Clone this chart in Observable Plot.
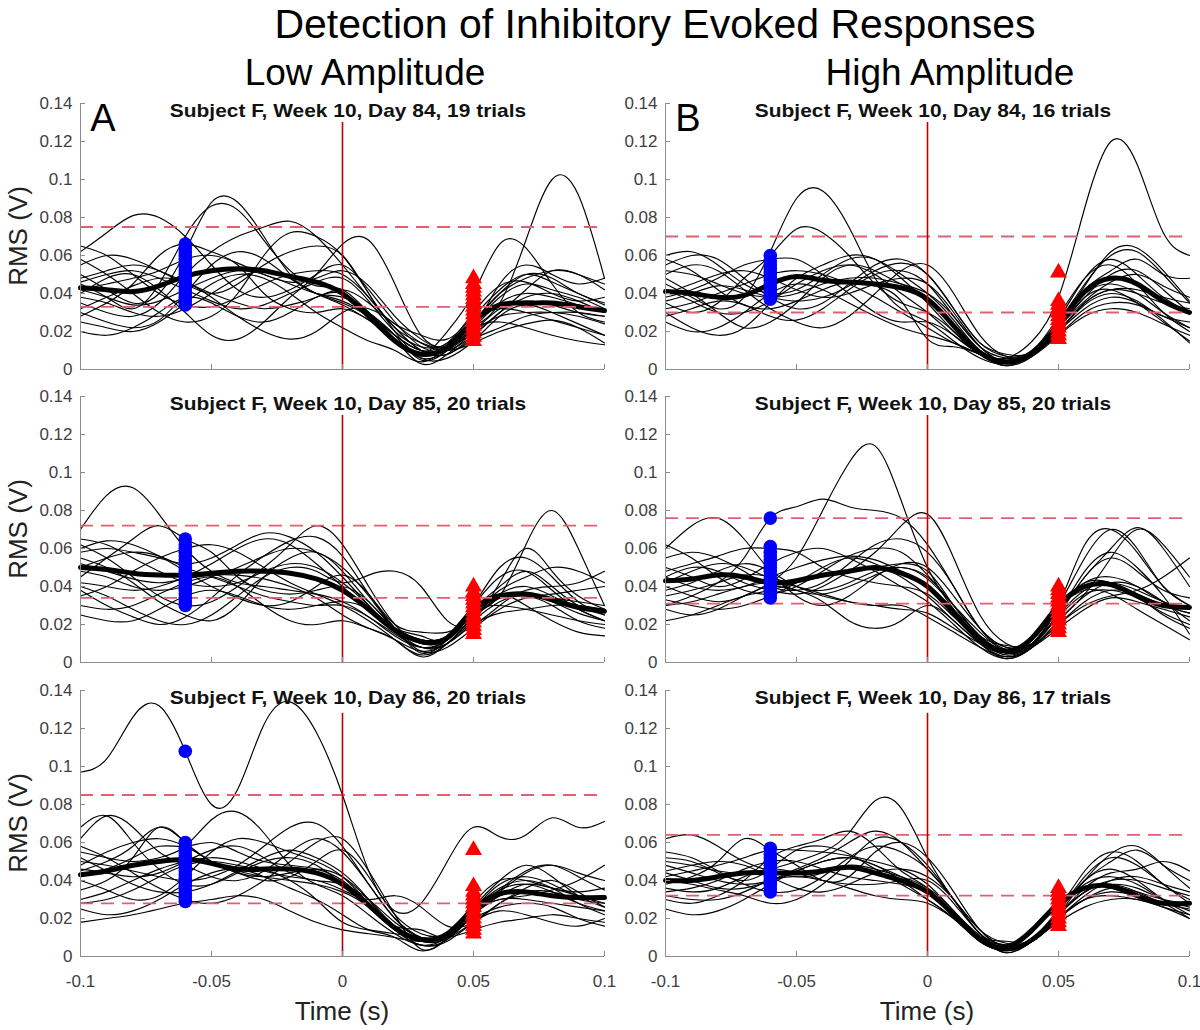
<!DOCTYPE html>
<html><head><meta charset="utf-8">
<script src="https://cdn.jsdelivr.net/npm/d3@7"></script>
<script src="https://cdn.jsdelivr.net/npm/@observablehq/plot@0.6"></script>
<style>
body{margin:0;background:#fff;font-family:"Liberation Sans",Arial,sans-serif;}
#fig{position:relative;width:1200px;height:1030px;overflow:hidden;background:#fff}
.abs{position:absolute;white-space:nowrap;line-height:1;color:#000}
svg{position:absolute}
</style></head><body><div id="fig"></div>
<script>
// ---------------- DATA ----------------
const times = [-0.1,-0.09,-0.08,-0.07,-0.06,-0.05,-0.04,-0.03,-0.02,-0.01,0,0.01,0.02,0.03,0.04,0.05,0.06,0.07,0.08,0.09,0.1];
const xDomain = [-0.1, 0.1];
const yDomain = [0, 0.14];
const yTickValues = [0,0.02,0.04,0.06,0.08,0.1,0.12,0.14];
const yTickLabels = ["0","0.02","0.04","0.06","0.08","0.1","0.12","0.14"];
const xTickValues = [-0.1,-0.05,0,0.05,0.1];
const xTickLabels = ["-0.1","-0.05","0","0.05","0.1"];
const stimulusTime = 0;
const baselineMarkerTime = -0.06;
const responseMarkerTime = 0.05;
const mainTitle = "Detection of Inhibitory Evoked Responses";
const columnTitles = ["Low Amplitude","High Amplitude"];
const panelLetters = ["A","B"];
const panelTitles = [
  "Subject F, Week 10, Day 84, 19 trials","Subject F, Week 10, Day 84, 16 trials",
  "Subject F, Week 10, Day 85, 20 trials","Subject F, Week 10, Day 85, 20 trials",
  "Subject F, Week 10, Day 86, 20 trials","Subject F, Week 10, Day 86, 17 trials"];
const yLabel = "RMS (V)";
const xLabel = "Time (s)";

// all RMS values below in millivolts
const trialsA1 = [
[62,72,81,80,70,55,42,38,42,50,55,42,25,12,10,18,30,42,52,50,45],
[50,42,35,40,62,88,88,70,50,40,38,30,18,5,10,22,35,40,38,34,30],
[45,38,32,45,70,86,84,68,52,44,42,30,16,3,8,20,32,36,34,30,28],
[35,30,28,35,50,62,70,75,78,70,55,38,22,10,8,18,30,38,40,36,30],
[55,60,58,52,45,40,45,55,62,65,60,40,22,14,12,24,38,45,42,38,32],
[30,25,22,26,40,55,62,58,48,40,35,28,18,10,12,25,40,50,48,40,35],
[40,48,50,42,30,18,16,25,38,50,66,68,45,18,12,22,45,55,50,45,48],
[20,18,22,30,38,35,28,25,30,38,40,30,18,10,14,26,32,30,26,22,18],
[48,52,55,52,46,40,35,32,34,38,42,35,24,18,16,28,42,50,46,40,34],
[38,35,30,28,32,40,48,52,48,40,34,26,16,6,10,22,35,68,100,92,48],
[42,38,34,36,42,48,52,50,45,40,36,28,16,8,20,40,66,64,45,30,25],
[25,22,20,25,35,45,50,48,40,30,22,15,10,4,12,22,25,22,18,15,13],
[65,60,50,40,34,33,38,45,50,52,50,38,22,10,8,16,22,28,30,30,28],
[42,45,48,52,58,60,56,50,46,48,52,44,28,16,12,25,40,48,52,50,42],
[32,38,44,48,46,38,28,20,16,20,30,32,24,14,10,14,20,24,26,22,14],
[58,50,40,30,25,28,40,60,72,70,60,40,20,6,6,15,28,34,30,24,18],
[28,35,45,60,66,62,55,40,32,30,32,26,16,8,10,20,28,30,30,28,24],
[46,50,52,48,42,36,32,34,40,46,48,36,20,12,14,30,44,46,40,36,38]];
const meanA1 = [43,42,41,44,49,52,53,52,49,46,40,28,15,8,12,25,34,35,35,33,31];
const dotsA1 = [34,36,38,40,42,44,46,48,50,52,54,56,58,60,62,64,66];
const trianglesA1 = [15,17,19,21,23,25,27,29,31,33,35,37,39,41,43,45,48];
const thresholdsA1 = [75,33];

const trialsB1 = [
[45,38,32,38,62,90,94,75,48,32,25,15,6,3,10,25,40,45,40,30,22],
[35,30,35,48,60,74,72,60,45,35,30,20,8,4,8,22,38,50,52,42,30],
[55,60,58,48,38,32,35,45,55,58,50,32,14,7,10,28,48,55,45,30,20],
[30,22,18,22,35,48,55,60,58,48,35,20,8,2,9,25,45,60,62,50,35],
[60,62,55,45,40,42,50,58,58,50,40,26,10,6,15,38,85,120,108,72,60],
[40,45,50,52,48,42,38,40,45,48,45,30,12,4,8,20,35,42,40,35,32],
[25,20,22,30,40,45,42,35,28,22,18,14,8,4,8,22,38,42,35,25,15],
[50,55,52,42,32,25,22,28,40,52,55,40,18,7,9,26,48,58,50,38,30],
[38,42,48,55,58,58,50,40,30,25,25,18,8,2,7,20,35,42,42,38,35],
[28,32,36,34,28,26,32,42,50,52,45,28,12,4,8,18,28,32,30,24,18],
[48,40,30,22,25,35,48,55,52,45,38,24,10,5,9,24,42,52,58,50,48],
[32,35,40,45,50,52,50,45,38,30,22,14,8,3,7,18,30,35,34,28,22],
[52,50,45,40,38,40,45,48,48,45,40,28,12,6,8,24,44,62,64,52,36],
[42,36,30,30,36,45,52,55,50,40,30,18,8,3,8,20,32,38,35,28,25],
[36,40,44,42,38,36,38,44,52,56,50,32,14,8,9,22,36,46,50,44,38],
[58,52,42,34,32,36,42,46,44,36,16,12,8,4,8,20,34,40,36,26,14]];
const meanB1 = [41,40,38,39,45,49,47,46,45,43,37,23,9,4,9,24,41,48,45,36,30];
const dotsB1 = [37,39,41,43,45,47,49,51,53,55,57,60];
const trianglesB1 = [16,18,20,22,24,26,28,30,32,34,36,51];
const thresholdsB1 = [70,30];

const trialsA2 = [
[70,88,92,78,60,48,42,40,38,36,32,24,14,8,12,26,34,36,34,30,28],
[45,55,65,72,65,58,45,38,36,38,40,32,18,12,14,28,40,48,40,30,25],
[62,55,45,35,30,32,40,50,62,72,62,40,20,10,14,30,45,48,38,28,22],
[55,50,42,32,25,22,30,45,55,58,48,32,18,5,12,25,35,62,80,60,30],
[40,35,28,22,20,25,35,45,50,48,42,46,48,40,22,20,30,38,40,42,48],
[50,55,58,56,50,45,40,35,32,30,30,24,15,8,10,22,42,60,48,35,28],
[35,40,48,55,60,62,58,50,42,36,30,22,12,4,10,24,36,40,35,28,22],
[58,60,58,55,52,55,62,68,66,58,45,30,16,8,12,28,36,30,22,16,14],
[30,28,30,36,42,45,40,30,22,20,22,18,12,3,10,22,32,35,30,22,18],
[48,45,40,38,40,45,50,56,60,58,50,35,18,8,10,25,38,45,50,48,42],
[65,62,55,48,42,40,42,48,52,50,42,30,18,14,12,26,30,28,25,22,20],
[42,40,38,40,45,52,60,65,62,52,40,28,18,12,14,30,50,55,45,32,25],
[25,22,22,28,35,38,35,30,28,30,32,28,18,10,12,24,34,36,34,32,30],
[52,48,44,42,44,46,46,44,40,34,25,18,12,6,10,20,26,28,30,30,28],
[38,30,24,20,24,34,46,56,64,66,56,36,18,6,8,18,28,34,36,38,40],
[60,64,62,56,48,40,34,30,32,40,46,36,20,16,16,24,34,36,32,26,22]];
const meanA2 = [50,49,47,46,46,47,48,48,47,44,38,28,17,11,13,28,35,36,33,29,27];
const dotsA2 = [30,32,34,36,38,40,42,44,46,48,50,52,54,56,58,60,62,65];
const trianglesA2 = [15,17,19,21,23,25,27,29,31,33,35,37,40];
const thresholdsA2 = [72,34];

const trialsB2 = [
[40,35,32,35,42,55,80,105,114,85,50,28,12,5,10,25,38,42,38,32,28],
[30,35,42,55,76,82,86,82,80,76,62,40,18,7,12,28,40,42,36,30,26],
[45,50,48,42,38,36,40,48,58,72,78,55,25,10,10,28,42,45,40,32,28],
[60,72,76,65,48,35,30,35,45,52,50,35,18,8,12,30,55,70,60,40,30],
[50,45,40,44,52,58,60,55,48,40,32,20,8,2,8,22,36,55,70,62,45],
[35,38,42,46,45,40,35,32,30,28,26,18,10,4,9,25,45,55,48,38,34],
[28,25,28,35,40,38,32,22,18,22,30,22,10,3,8,22,35,42,40,32,22],
[55,58,55,48,40,38,42,52,62,65,58,40,18,8,10,28,42,42,35,25,18],
[38,42,48,52,48,40,38,42,48,50,45,30,14,5,9,26,45,60,71,60,40],
[22,25,30,35,38,42,45,48,50,52,48,30,14,5,10,24,36,38,34,26,20],
[62,55,45,38,36,40,48,56,60,58,46,30,14,9,10,26,48,58,50,35,15],
[45,40,38,40,45,50,54,56,54,48,40,28,14,6,10,28,38,36,28,20,12],
[48,52,56,60,60,58,50,45,42,40,36,24,12,5,9,20,30,35,38,45,55],
[33,30,28,30,35,42,50,55,52,45,35,22,10,2,8,20,32,38,36,30,26],
[42,48,52,50,44,38,36,40,46,50,44,30,16,6,10,30,62,70,58,40,30],
[30,32,36,40,42,40,36,32,30,30,24,16,8,3,8,18,28,34,32,28,24]];
const meanB2 = [43,44,46,45,42,43,46,48,50,47,40,26,12,6,13,30,40,41,35,30,29];
const dotsB2 = [34,36,38,40,42,44,46,48,50,52,54,56,58,61,76];
const trianglesB2 = [16,18,20,22,24,26,28,30,32,34,36,38,40];
const thresholdsB2 = [76,31];

const trialsA3 = [
[97,104,126,132,108,80,88,122,134,118,85,45,24,28,50,68,63,64,73,68,71],
[55,52,50,52,58,72,76,65,48,38,32,22,12,6,10,22,32,38,36,32,28],
[62,74,68,55,48,42,40,45,55,62,55,38,20,10,12,25,38,42,38,32,30],
[45,50,58,68,60,50,44,40,42,50,56,42,22,12,12,24,30,32,35,40,48],
[35,40,52,68,60,50,45,42,40,38,34,26,14,8,12,25,36,40,36,28,22],
[50,48,45,42,40,42,48,58,68,70,58,38,20,10,10,22,35,45,48,42,35],
[18,20,22,25,28,30,32,30,24,18,14,12,10,8,12,20,26,28,26,20,16],
[58,52,44,36,30,28,32,40,50,60,62,45,22,4,10,26,40,48,42,32,26],
[40,35,30,32,42,55,62,60,55,50,42,28,14,6,9,22,32,34,32,30,32],
[28,30,35,42,48,50,48,45,42,40,35,30,32,26,16,18,28,36,40,34,26],
[48,55,60,62,58,50,44,42,44,46,42,30,16,8,10,24,35,38,34,28,24],
[52,45,38,34,34,38,45,52,56,52,44,30,16,14,10,22,30,30,28,26,24],
[25,22,24,30,38,44,46,42,36,30,22,14,10,3,9,18,28,34,34,30,28],
[42,46,52,58,58,60,55,50,48,46,40,28,16,8,10,22,34,44,48,44,40],
[68,74,60,46,38,38,44,50,52,48,38,26,14,6,8,18,24,22,18,16,20],
[30,34,40,46,50,52,50,46,40,30,18,14,12,10,10,14,18,20,22,20,18],
[46,44,42,44,50,56,58,52,44,40,38,30,18,10,12,28,40,40,36,34,36]];
const meanA3 = [43,45,48,50,51,49,46,46,46,44,38,27,15,9,12,25,33,34,32,31,31];
const dotsA3 = [29,31,33,35,37,39,41,43,45,47,49,51,53,55,57,60,108];
const trianglesA3 = [12,14,16,18,20,22,24,26,28,30,32,34,37,56];
const thresholdsA3 = [85,28];

const trialsB3 = [
[50,48,45,44,46,50,55,65,82,78,52,30,12,4,10,22,34,38,34,28,25],
[62,64,58,50,45,42,44,48,46,42,36,24,10,6,8,20,32,40,42,38,34],
[38,42,50,62,56,48,40,42,55,60,52,34,14,5,10,25,45,55,50,38,30],
[30,28,32,40,52,58,62,66,58,45,36,22,10,2,9,24,40,50,56,48,40],
[45,48,50,48,42,36,34,38,44,46,42,30,14,7,9,24,38,42,38,30,24],
[25,22,24,30,38,45,50,52,48,40,30,20,8,3,8,20,30,32,30,26,22],
[55,52,45,38,34,35,42,52,58,55,46,30,14,5,9,22,34,40,40,36,32],
[40,38,35,32,28,30,38,50,62,60,48,30,12,4,9,24,42,52,48,38,28],
[34,36,40,46,50,50,46,42,40,38,34,22,10,8,8,20,30,34,32,28,20],
[48,44,40,38,40,45,50,52,48,42,34,22,10,4,9,22,36,44,46,50,45],
[42,45,48,52,56,56,55,53,50,46,38,24,11,4,9,24,40,46,40,30,22],
[32,30,30,34,40,42,40,36,32,30,28,20,10,2,8,18,26,30,30,26,20],
[44,40,36,36,40,46,52,60,66,60,46,30,12,6,8,22,40,54,58,48,36],
[36,34,36,42,46,44,40,38,38,40,40,28,12,4,8,20,30,36,34,30,28],
[52,50,44,40,46,56,58,54,46,38,30,20,8,3,8,22,34,38,36,30,26]];
const meanB3 = [40,40,42,44,44,44,45,47,44,40,34,22,9,5,14,28,36,37,32,28,28];
const dotsB3 = [34,36,38,40,42,44,46,48,50,52,54,57];
const trianglesB3 = [16,18,20,22,24,26,28,30,32,34,36];
const thresholdsB3 = [64,32];

const stimulusMarkerTop = [130,130,130,130,128,128]; // mV, top of red stimulus line per panel

// ---------------- LAYOUT ----------------
const fig = document.getElementById("fig");
const FONT = "'Liberation Sans', Arial, Helvetica, sans-serif";
const frameW = 524, frameH = 266;
const colLeft = [80, 665];
const rowTop = [103, 396, 690];
const mL = 60, mR = 8, mT = 8;

function addText(txt, cx, cy, css, extra = "") {
  const d = document.createElement("div");
  d.className = "abs";
  d.textContent = txt;
  d.style.cssText += css + `;font-family:${FONT};left:${cx}px;top:${cy}px;transform:translate(-50%,-50%) ${extra}`;
  fig.appendChild(d);
  return d;
}

const panels = [
  {trials: trialsA1, mean: meanA1, dots: dotsA1, tris: trianglesA1, thr: thresholdsA1},
  {trials: trialsB1, mean: meanB1, dots: dotsB1, tris: trianglesB1, thr: thresholdsB1},
  {trials: trialsA2, mean: meanA2, dots: dotsA2, tris: trianglesA2, thr: thresholdsA2},
  {trials: trialsB2, mean: meanB2, dots: dotsB2, tris: trianglesB2, thr: thresholdsB2},
  {trials: trialsA3, mean: meanA3, dots: dotsA3, tris: trianglesA3, thr: thresholdsA3},
  {trials: trialsB3, mean: meanB3, dots: dotsB3, tris: trianglesB3, thr: thresholdsB3}
];

const mv = v => v / 1000;
const tickLenX = (xDomain[1] - xDomain[0]) * 5 / frameW;
const tickLenY = (yDomain[1] - yDomain[0]) * 5 / frameH;
const fmtY = d => yTickLabels[yTickValues.findIndex(v => Math.abs(v - d) < 1e-9)];
const fmtX = d => xTickLabels[xTickValues.findIndex(v => Math.abs(v - d) < 1e-9)];

panels.forEach((p, idx) => {
  const col = idx % 2, row = Math.floor(idx / 2);
  const bottomRow = row === 2;
  const mB = bottomRow ? 44 : 6;
  const rows = p.trials.flatMap((vals, k) => vals.map((v, i) => ({t: times[i], v: mv(v), trial: k})));
  const meanRows = p.mean.map((v, i) => ({t: times[i], v: mv(v)}));
  const dotRows = p.dots.map(v => ({t: baselineMarkerTime, v: mv(v)}));
  const triRows = p.tris.map(v => ({t: responseMarkerTime, v: mv(v)}));
  const marks = [
    Plot.line(rows, {x: "t", y: "v", z: "trial", stroke: "#000", strokeWidth: 1.15, curve: "natural"}),
    Plot.line(meanRows, {x: "t", y: "v", stroke: "#000", strokeWidth: 5, curve: "natural"}),
    Plot.ruleY(p.thr.map(mv), {stroke: "#e0606e", strokeWidth: 1.8, strokeDasharray: "13,8"}),
    Plot.ruleX([stimulusTime], {y1: 0, y2: mv(stimulusMarkerTop[idx]), stroke: "#b80000", strokeWidth: 1.6}),
    Plot.dot(dotRows, {x: "t", y: "v", r: 6.8, fill: "#0000ff", stroke: null}),
    Plot.dot(triRows, {x: "t", y: "v", r: 6.3, symbol: "triangle", fill: "#ff0000", stroke: null}),
    Plot.ruleY(yTickValues, {x1: xDomain[0], x2: xDomain[0] + tickLenX, stroke: "#8c8c8c"}),
    Plot.ruleX(xTickValues, {y1: yDomain[0], y2: yDomain[0] + tickLenY, stroke: "#8c8c8c"}),
    Plot.ruleX([xDomain[0]], {y1: yDomain[0], y2: yDomain[1], stroke: "#8c8c8c"}),
    Plot.ruleY([yDomain[0]], {stroke: "#8c8c8c"}),
    Plot.axisY({ticks: yTickValues, tickFormat: fmtY, tickSize: 0, tickPadding: 8, label: null})
  ];
  if (bottomRow) marks.push(Plot.axisX({ticks: xTickValues, tickFormat: fmtX, tickSize: 0, tickPadding: 18, label: null}));
  const svg = Plot.plot({
    width: mL + frameW + mR, height: mT + frameH + mB,
    marginLeft: mL, marginRight: mR, marginTop: mT, marginBottom: mB,
    style: {background: "transparent", color: "#404040", fontSize: "17px", fontFamily: FONT, overflow: "visible"},
    x: {domain: xDomain, axis: bottomRow ? undefined : null},
    y: {domain: yDomain},
    marks
  });
  svg.style.left = (colLeft[col] - mL) + "px";
  svg.style.top = (rowTop[row] - mT) + "px";
  fig.appendChild(svg);

  // panel title
  const cx = colLeft[col] + frameW / 2 + 6;
  addText(panelTitles[idx], cx, rowTop[row] + 7, "font-size:19px;font-weight:bold;color:#111", "scaleX(1.1)");
  if (row === 0) addText(panelLetters[col], colLeft[col] + 23, rowTop[row] + 15, "font-size:38px");
  if (col === 0) addText(yLabel, 18, rowTop[row] + frameH / 2, "font-size:26px;color:#222", "rotate(-90deg)");
  if (bottomRow) addText(xLabel, colLeft[col] + frameW / 2, 1011, "font-size:26px;color:#222");
});

addText(mainTitle, 655, 24, "font-size:41px;line-height:1.1;padding-top:1px");
addText(columnTitles[0], 365, 72, "font-size:37px");
addText(columnTitles[1], 950, 72, "font-size:37px");
</script></body></html>
